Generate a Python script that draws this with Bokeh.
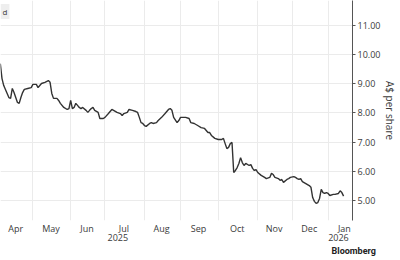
import numpy as np
from bokeh.plotting import figure
from bokeh.models import Range1d, FixedTicker, LinearAxis, Label, NumeralTickFormatter, Title
from bokeh.embed import file_html
from bokeh.resources import INLINE

# ASX non-trading days in the period
HOLIDAYS = ["2025-04-18", "2025-04-21", "2025-04-25", "2025-06-09",
            "2025-12-25", "2025-12-26", "2026-01-01", "2026-01-26"]

DATES = [
    "2025-04-01", "2025-04-02", "2025-04-03", "2025-04-07", "2025-04-08", "2025-04-09",
    "2025-04-10", "2025-04-11", "2025-04-14", "2025-04-15", "2025-04-16", "2025-04-17",
    "2025-04-22", "2025-04-23", "2025-04-28", "2025-04-30",
    "2025-05-01", "2025-05-05", "2025-05-06", "2025-05-07", "2025-05-08", "2025-05-12",
    "2025-05-14", "2025-05-15", "2025-05-16", "2025-05-19", "2025-05-21", "2025-05-22",
    "2025-05-23", "2025-05-27", "2025-05-29", "2025-05-30",
    "2025-06-02", "2025-06-03", "2025-06-04", "2025-06-05", "2025-06-06", "2025-06-10",
    "2025-06-11", "2025-06-12", "2025-06-16", "2025-06-17", "2025-06-18", "2025-06-19",
    "2025-06-20", "2025-06-23", "2025-06-25", "2025-06-26", "2025-06-30",
    "2025-07-01", "2025-07-03", "2025-07-07", "2025-07-08", "2025-07-10", "2025-07-14",
    "2025-07-15", "2025-07-16", "2025-07-18", "2025-07-21", "2025-07-23", "2025-07-25",
    "2025-07-28", "2025-07-29", "2025-07-30", "2025-07-31",
    "2025-08-01", "2025-08-04", "2025-08-06", "2025-08-07", "2025-08-08", "2025-08-12",
    "2025-08-13", "2025-08-15", "2025-08-19", "2025-08-21", "2025-08-22", "2025-08-25",
    "2025-08-26", "2025-08-28", "2025-08-29",
    "2025-09-01", "2025-09-04", "2025-09-08", "2025-09-09", "2025-09-11", "2025-09-15",
    "2025-09-17", "2025-09-19", "2025-09-23", "2025-09-24", "2025-09-25", "2025-09-29",
    "2025-10-01", "2025-10-03", "2025-10-06", "2025-10-07", "2025-10-08", "2025-10-09",
    "2025-10-10", "2025-10-13", "2025-10-14", "2025-10-15", "2025-10-16", "2025-10-17",
    "2025-10-20", "2025-10-21", "2025-10-22", "2025-10-23", "2025-10-27", "2025-10-28",
    "2025-10-29", "2025-10-30", "2025-10-31",
    "2025-11-03", "2025-11-05", "2025-11-07", "2025-11-10", "2025-11-12", "2025-11-13",
    "2025-11-14", "2025-11-17", "2025-11-19", "2025-11-20", "2025-11-21", "2025-11-24",
    "2025-11-26", "2025-11-27", "2025-11-28",
    "2025-12-02", "2025-12-03", "2025-12-04", "2025-12-05", "2025-12-08", "2025-12-09",
    "2025-12-11", "2025-12-15", "2025-12-16", "2025-12-17", "2025-12-18", "2025-12-19",
    "2025-12-22", "2025-12-23", "2025-12-24", "2025-12-29", "2025-12-30", "2025-12-31",
    "2026-01-02", "2026-01-05", "2026-01-07", "2026-01-08", "2026-01-12", "2026-01-13",
    "2026-01-14", "2026-01-15",
]

PRICES = [
    9.69, 9.18, 8.94, 8.67, 8.53, 8.50,
    8.84, 8.70, 8.53, 8.36, 8.33, 8.53,
    8.70, 8.81, 8.84, 8.87,
    8.98, 8.98, 8.87, 8.94, 9.01, 9.05,
    9.11, 9.05, 8.67, 8.50, 8.50, 8.43,
    8.33, 8.19, 8.12, 8.15,
    8.43, 8.15, 8.19, 8.33, 8.26, 8.19,
    8.15, 8.19, 8.09, 8.02, 8.09, 8.15,
    8.19, 8.09, 8.02, 7.81, 7.81,
    7.85, 7.98, 8.12, 8.09, 8.02, 7.98,
    7.91, 7.98, 8.02, 8.12, 8.09, 8.05,
    8.02, 7.85, 7.67, 7.64,
    7.57, 7.54, 7.64, 7.67, 7.64, 7.67,
    7.74, 7.85, 7.98, 8.12, 8.15, 8.09,
    7.85, 7.67, 7.74,
    7.85, 7.85, 7.81, 7.67, 7.64, 7.57,
    7.50, 7.47, 7.33, 7.33, 7.23, 7.13,
    7.09, 7.09, 7.13, 6.95, 6.78, 6.82,
    6.95, 6.99, 5.96, 6.03, 6.13, 6.27,
    6.47, 6.30, 6.20, 6.27, 6.20, 6.23,
    6.10, 6.03, 6.06,
    5.96, 5.86, 5.79, 5.75, 5.79, 5.93,
    5.89, 5.79, 5.75, 5.69, 5.72, 5.62,
    5.72, 5.75, 5.79,
    5.82, 5.79, 5.75, 5.72, 5.75, 5.65,
    5.58, 5.51, 5.45, 5.10, 4.97, 4.90,
    4.93, 5.07, 5.38, 5.27, 5.24, 5.27,
    5.24, 5.17, 5.21, 5.21, 5.24, 5.33,
    5.27, 5.15,
]

MONTH_STARTS = ["2025-04-01", "2025-05-01", "2025-06-01", "2025-07-01", "2025-08-01",
                "2025-09-01", "2025-10-01", "2025-11-01", "2025-12-01", "2026-01-01",
                "2026-02-01"]
MONTH_LABELS = ["Apr", "May", "Jun", "Jul", "Aug", "Sep", "Oct", "Nov", "Dec", "Jan"]
YEAR_LABELS = {"Jul": "2025", "Jan": "2026"}
Y_TICKS = [5, 6, 7, 8, 9, 10, 11]

ORIGIN = "2025-04-01"
FONT = "Open Sans"
TXT = "#3a3a3a"


def session_index(dates):
    d = np.array(dates, dtype="datetime64[D]")
    d = np.busday_offset(d, 0, roll="forward", holidays=HOLIDAYS)
    return np.busday_count(np.datetime64(ORIGIN), d, holidays=HOLIDAYS).astype(float)


x = session_index(DATES)
starts = session_index(MONTH_STARTS)
mids = (starts[:-1] + starts[1:]) / 2.0 - 0.5

p = figure(width=400, height=260, output_backend="svg", toolbar_location=None,
           y_axis_location="right",
           x_range=Range1d(0.12, 205.2), y_range=Range1d(4.314, 11.856),
           min_border_left=0, min_border_top=0, min_border_right=48, min_border_bottom=40)
p.outline_line_color = None
p.background_fill_color = "white"
p.border_fill_color = "white"

p.line(x, PRICES, line_color="#333333", line_width=1.4)

# x axis: month labels centred in each month, grid at month starts
p.xaxis.ticker = FixedTicker(ticks=list(mids))
p.xaxis.major_label_overrides = {float(m): lab for m, lab in zip(mids, MONTH_LABELS)}
p.xaxis.axis_line_color = None
p.xaxis.major_tick_line_color = None
p.xaxis.minor_tick_line_color = None
p.xaxis.major_tick_out = 0
p.xaxis.major_tick_in = 0
p.xaxis.minor_tick_out = 0
p.xaxis.minor_tick_in = 0
p.xaxis.major_label_standoff = 1
p.xaxis.major_label_text_font = FONT
p.xaxis.major_label_text_font_size = "9px"
p.xaxis.major_label_text_color = TXT
p.xgrid.ticker = FixedTicker(ticks=list(starts[1:]))
p.xgrid.grid_line_color = "#ebebeb"

year_months = [lab for lab in MONTH_LABELS if lab in YEAR_LABELS]
year_ticks = [float(m) - 3.5 for m, lab in zip(mids, MONTH_LABELS) if lab in YEAR_LABELS]
year_axis = LinearAxis(ticker=FixedTicker(ticks=year_ticks),
                       major_label_overrides={t: YEAR_LABELS[lab] for t, lab in zip(year_ticks, year_months)},
                       axis_line_color=None, major_tick_line_color=None,
                       minor_tick_line_color=None, major_tick_out=0, major_tick_in=0,
                       minor_tick_out=0, minor_tick_in=0, major_label_standoff=-4,
                       major_label_text_font=FONT, major_label_text_font_size="9px",
                       major_label_text_color=TXT)
p.add_layout(year_axis, "below")

# source mark, stacked under the axes
p.add_layout(Title(text="Bloomberg", align="left", offset=331, standoff=0,
                   text_font="Roboto", text_font_style="bold", text_font_size="9px",
                   text_color="#222222"), "below")

# y axis on the right
p.yaxis.ticker = FixedTicker(ticks=Y_TICKS)
p.yaxis.formatter = NumeralTickFormatter(format="0.00")
p.yaxis.axis_label = "A$ per share"
p.yaxis.axis_label_text_font = FONT
p.yaxis.axis_label_text_font_size = "10px"
p.yaxis.axis_label_text_font_style = "normal"
p.yaxis.axis_label_text_color = TXT
p.yaxis.axis_label_standoff = 0
p.yaxis.major_label_text_font = FONT
p.yaxis.major_label_text_font_size = "9px"
p.yaxis.major_label_text_color = TXT
p.yaxis.major_label_standoff = 2
p.yaxis.axis_line_color = "#555555"
p.yaxis.major_tick_line_color = "#555555"
p.yaxis.major_tick_out = 3
p.yaxis.major_tick_in = 0
p.yaxis.minor_tick_line_color = None
p.ygrid.grid_line_color = "#ebebeb"

# clipped legend chip at top-left
p.add_layout(Label(x=0, y=209, x_units="screen", y_units="screen", text="d",
                   text_font=FONT, text_font_size="8px", text_color=TXT,
                   text_baseline="middle", text_align="left",
                   background_fill_color="#eeeeee", padding=2))

open("out.html", "w").write(file_html(p, INLINE))
